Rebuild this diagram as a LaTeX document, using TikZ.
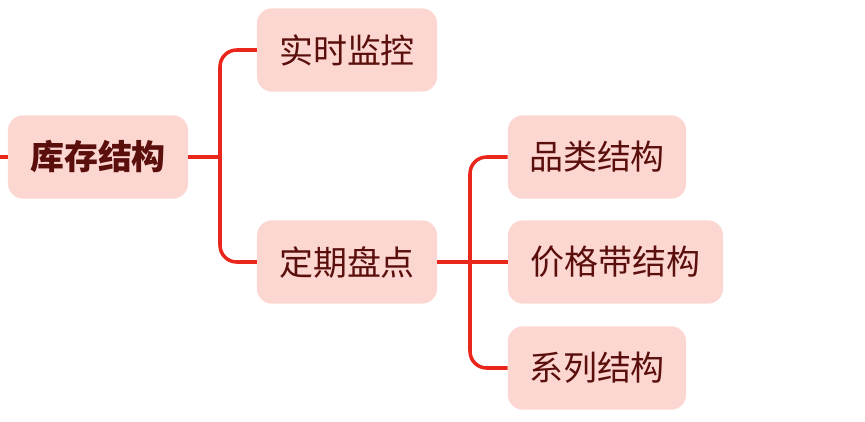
\documentclass[tikz,border=0pt]{standalone}
\usepackage{fontspec}
\setmainfont{Noto Sans CJK SC}
\definecolor{fondo}{HTML}{FCD6D1}
\definecolor{texto}{HTML}{5A0F0C}
\definecolor{linea}{HTML}{E8261C}
\begin{document}
\begin{tikzpicture}[x=0.03cm, y=-0.03cm,
    every node/.style={font=\fontsize{29}{32}\selectfont, text=texto},
    tema/.style={fill=fondo, rounded corners=0.45cm, minimum height=2.5cm, inner xsep=0.45cm},
    rama/.style={draw=linea, line width=3pt, rounded corners=0.5cm}
]
\useasboundingbox (0,0) rectangle (865,422);
% Raiz
\node[tema, font=\fontsize{29}{32}\selectfont\bfseries, minimum width=5.4cm] (raiz) at (98,157) {库存结构};
\coordinate (entrada) at (0,157);
% Primer nivel
\node[tema, minimum width=5.4cm] (monitor) at (347,50) {实时监控};
\node[tema, minimum width=5.4cm] (inventario) at (347,262) {定期盘点};
% Segundo nivel
\node[tema, minimum width=5.35cm] (categoria) at (597,157) {品类结构};
\node[tema, minimum width=6.45cm] (precio) at (615.5,262) {价格带结构};
\node[tema, minimum width=5.35cm] (serie) at (597,368) {系列结构};
% Aristas
\draw[rama] (entrada) -- (raiz);
\draw[rama] (raiz.east) -- (220,157);
\draw[rama] (monitor.west) -| (220,157) |- (inventario.west);
\draw[rama] (inventario.east) -- (precio.west);
\draw[rama] (categoria.west) -| (470,262) |- (serie.west);
\end{tikzpicture}
\end{document}
